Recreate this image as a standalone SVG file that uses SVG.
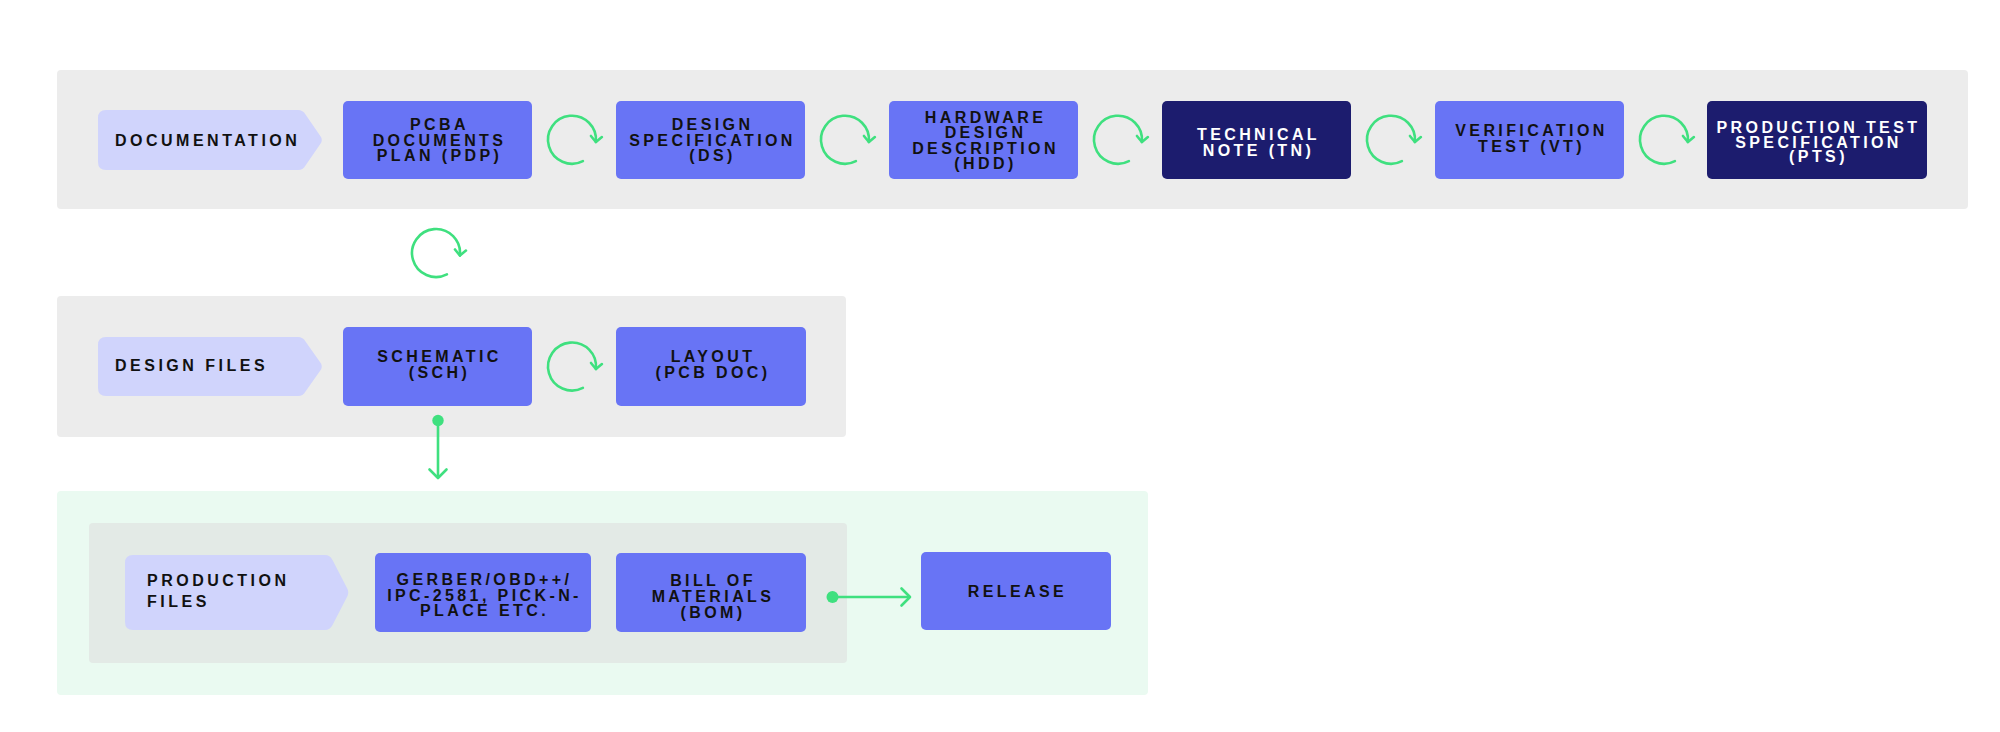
<svg xmlns="http://www.w3.org/2000/svg" width="2000" height="732" viewBox="0 0 2000 732">
<style>
.panel{fill:#ececec}
.outer{fill:#eafaf1}
.inner{fill:#e3eae6}
.chev{fill:#d0d4fc}
.box{fill:#6874f5}
.dark{fill:#1c1c6e}
text{font-family:"Liberation Sans",Arial,sans-serif;font-size:16px;font-weight:bold;letter-spacing:3.4px;fill:#111111}
.c{text-anchor:middle}
.w{fill:#ffffff}
.lbl{letter-spacing:3.5px}
.loop{fill:none;stroke:#3fe07f;stroke-width:2.6;stroke-linecap:round}
.link{fill:none;stroke:#3fe07f;stroke-width:2.6}
.dot{fill:#3fe07f}
</style>
<defs>
<marker id="ahs" viewBox="-10 -10 20 20" markerWidth="20" markerHeight="20" markerUnits="userSpaceOnUse" orient="auto" refX="0" refY="0">
<path d="M-5.5,-5.5 L0,0 L-5.5,5.5" fill="none" stroke="#3fe07f" stroke-width="2.6" stroke-linecap="round" stroke-linejoin="round"/>
</marker>
<marker id="ahl" viewBox="-12 -12 24 24" markerWidth="24" markerHeight="24" markerUnits="userSpaceOnUse" orient="auto" refX="0" refY="0">
<path d="M-8.5,-8.5 L0,0 L-8.5,8.5" fill="none" stroke="#3fe07f" stroke-width="2.6" stroke-linecap="round" stroke-linejoin="round"/>
</marker>
</defs>

<g id="panels">
<rect class="panel" x="57" y="70" width="1911" height="139" rx="4"/>
<rect class="panel" x="57" y="296" width="789" height="141" rx="4"/>
<rect class="outer" x="57" y="491" width="1091" height="204" rx="4"/>
<rect class="inner" x="89" y="523" width="758" height="140" rx="4"/>
</g>

<g id="documentation">
<path class="chev" d="M106,110 H298 Q303,110 305.5,114.5 L321,137 Q322.5,140 321,143 L305.5,165.5 Q303,170 298,170 H106 Q98,170 98,162 V118 Q98,110 106,110 Z"/>
<text class="lbl" x="115" y="145.8">DOCUMENTATION</text>
</g>

<g id="pdp">
<rect class="box" x="343" y="101" width="189" height="78" rx="5"/>
<text class="c" x="439.5" y="130.3">PCBA</text>
<text class="c" x="439.5" y="145.8">DOCUMENTS</text>
<text class="c" x="439.5" y="161.3">PLAN (PDP)</text>
</g>

<g id="ds">
<rect class="box" x="616" y="101" width="189" height="78" rx="5"/>
<text class="c" x="712.5" y="130.3">DESIGN</text>
<text class="c" x="712.5" y="145.8">SPECIFICATION</text>
<text class="c" x="712.5" y="161.3">(DS)</text>
</g>

<g id="hdd">
<rect class="box" x="889" y="101" width="189" height="78" rx="5"/>
<text class="c" x="985.5" y="122.8">HARDWARE</text>
<text class="c" x="985.5" y="138.3">DESIGN</text>
<text class="c" x="985.5" y="153.8">DESCRIPTION</text>
<text class="c" x="985.5" y="169.3">(HDD)</text>
</g>

<g id="tn">
<rect class="dark" x="1162" y="101" width="189" height="78" rx="5"/>
<text class="c w" x="1258.5" y="139.8">TECHNICAL</text>
<text class="c w" x="1258.5" y="155.8">NOTE (TN)</text>
</g>

<g id="vt">
<rect class="box" x="1435" y="101" width="189" height="78" rx="5"/>
<text class="c" x="1531.5" y="135.8">VERIFICATION</text>
<text class="c" x="1531.5" y="151.8">TEST (VT)</text>
</g>

<g id="pts">
<rect class="dark" x="1707" y="101" width="220" height="78" rx="5"/>
<text class="c w" x="1818.5" y="132.5">PRODUCTION TEST</text>
<text class="c w" x="1818.5" y="147.5">SPECIFICATION</text>
<text class="c w" x="1818.5" y="162.3">(PTS)</text>
</g>

<g id="design-files">
<path class="chev" d="M106,337 H298 Q303,337 305.5,341.5 L321,363.5 Q322.5,366.5 321,369.5 L305.5,391.5 Q303,396 298,396 H106 Q98,396 98,388 V345 Q98,337 106,337 Z"/>
<text class="lbl" x="115" y="370.8">DESIGN FILES</text>
</g>

<g id="sch">
<rect class="box" x="343" y="327" width="189" height="79" rx="5"/>
<text class="c" x="439.5" y="361.8">SCHEMATIC</text>
<text class="c" x="439.5" y="377.8">(SCH)</text>
</g>

<g id="layout">
<rect class="box" x="616" y="327" width="190" height="79" rx="5"/>
<text class="c" x="713" y="361.8">LAYOUT</text>
<text class="c" x="713" y="377.8">(PCB DOC)</text>
</g>

<g id="production-files">
<path class="chev" d="M133,555 H325 Q330,555 332.5,560 L347.5,589 Q349,592.5 347.5,596 L332.5,625 Q330,630 325,630 H133 Q125,630 125,622 V563 Q125,555 133,555 Z"/>
<text class="lbl" x="147" y="586.3">PRODUCTION</text>
<text class="lbl" x="147" y="606.8">FILES</text>
</g>

<g id="gerber">
<rect class="box" x="375" y="553" width="216" height="79" rx="5"/>
<text class="c" x="484.5" y="585.3">GERBER/OBD++/</text>
<text class="c" x="484.5" y="600.8">IPC-2581, PICK-N-</text>
<text class="c" x="484.5" y="616.3">PLACE ETC.</text>
</g>

<g id="bom">
<rect class="box" x="616" y="553" width="190" height="79" rx="5"/>
<text class="c" x="713" y="585.8">BILL OF</text>
<text class="c" x="713" y="601.8">MATERIALS</text>
<text class="c" x="713" y="617.8">(BOM)</text>
</g>

<g id="release">
<rect class="box" x="921" y="552" width="190" height="78" rx="5"/>
<text class="c" x="1017.5" y="596.8">RELEASE</text>
</g>

<g id="connectors">
<path class="loop" marker-end="url(#ahs)" d="M582.9,161.1 A24,24 0 1 1 595.9,142"/>
<path class="loop" marker-end="url(#ahs)" d="M855.9,161.1 A24,24 0 1 1 868.9,142"/>
<path class="loop" marker-end="url(#ahs)" d="M1128.9,161.1 A24,24 0 1 1 1141.9,142"/>
<path class="loop" marker-end="url(#ahs)" d="M1401.9,161.1 A24,24 0 1 1 1414.9,142"/>
<path class="loop" marker-end="url(#ahs)" d="M1674.9,161.1 A24,24 0 1 1 1687.9,142"/>
<path class="loop" marker-end="url(#ahs)" d="M446.9,274.4 A24,24 0 1 1 459.9,255.5"/>
<path class="loop" marker-end="url(#ahs)" d="M582.9,387.9 A24,24 0 1 1 595.9,369"/>
<circle class="dot" cx="438" cy="420.5" r="5.7"/>
<path class="link" marker-end="url(#ahl)" d="M438,420.5 V478"/>
<circle class="dot" cx="832.5" cy="597" r="6"/>
<path class="link" marker-end="url(#ahl)" d="M832.5,597 H910"/>
</g>
</svg>
